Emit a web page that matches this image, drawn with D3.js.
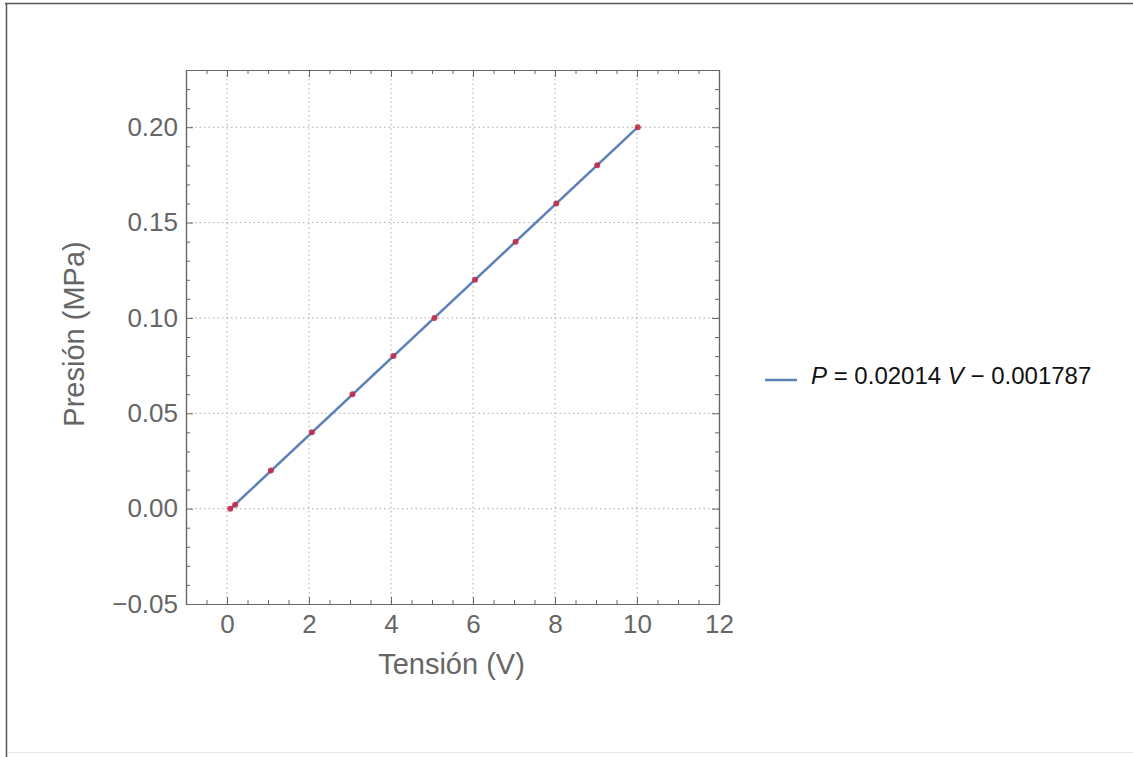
<!DOCTYPE html>
<html>
<head>
<meta charset="utf-8">
<script src="https://cdn.jsdelivr.net/npm/d3@7"></script>
<style>
  body { margin: 0; background: #fff; }
  text { font-family: "Liberation Sans", Arial, sans-serif; }
</style>
</head>
<body>
<div id="viz"></div>
<script>
const tension = [0.08, 0.2, 1.07, 2.07, 3.06, 4.06, 5.06, 6.05, 7.04, 8.03, 9.03, 10.02],
    presion = [0.0, 0.002, 0.02, 0.04, 0.06, 0.08, 0.10, 0.12, 0.14, 0.16, 0.18, 0.20],
    xTicks = [0, 2, 4, 6, 8, 10, 12],
    yTicks = [-0.05, 0.00, 0.05, 0.10, 0.15, 0.20],
    slope = 0.02014,
    intercept = -0.001787;

const svg = d3.select('#viz')
    .append('svg')
    .attr('width', 1133)
    .attr('height', 757);

// window frame of the screenshot
svg.append('rect').attr('x', 0).attr('y', 0).attr('width', 1133).attr('height', 757).attr('fill', '#fff');
svg.append('line').attr('x1', 5).attr('x2', 1133).attr('y1', 3.5).attr('y2', 3.5).attr('stroke', '#555').attr('stroke-width', 1.5);
svg.append('line').attr('x1', 6.5).attr('x2', 6.5).attr('y1', 3).attr('y2', 757).attr('stroke', '#555').attr('stroke-width', 1.5);
svg.append('line').attr('x1', 7).attr('x2', 1133).attr('y1', 752.5).attr('y2', 752.5).attr('stroke', '#e6e6e6').attr('stroke-width', 1);

const margin = {left: 186, top: 70, right: 1133 - 719, bottom: 757 - 604},
    width = 1133 - margin.left - margin.right,
    height = 757 - margin.top - margin.bottom;

const x = d3.scaleLinear().domain([-1, 12]).range([0, width]);
const y = d3.scaleLinear().domain([-0.05, 0.23]).range([height, 0]);

const g = svg.append('g')
    .attr('transform', 'translate(' + margin.left + ',' + margin.top + ')');

// grid
g.selectAll('.gx').data(xTicks.filter(d => d < 12)).enter().append('line')
    .attr('x1', d => x(d)).attr('x2', d => x(d))
    .attr('y1', 0).attr('y2', height)
    .attr('stroke', '#aaa').attr('stroke-width', 1).attr('stroke-dasharray', '1.5,3');
g.selectAll('.gy').data(yTicks.filter(d => d > -0.05)).enter().append('line')
    .attr('y1', d => y(d)).attr('y2', d => y(d))
    .attr('x1', 0).attr('x2', width)
    .attr('stroke', '#aaa').attr('stroke-width', 1).attr('stroke-dasharray', '1.5,3');

// ticks on all four sides, pointing inward
const xMinor = d3.range(-0.5, 12, 0.5).filter(d => d % 2 !== 0);
const yMinor = d3.range(-4, 23, 1).map(d => d / 100).filter(d => Math.round(d * 100) % 5 !== 0);

function frameAxis(axis, transform) {
    g.append('g').attr('transform', transform).call(axis)
        .call(a => a.select('.domain').attr('stroke', '#666').attr('stroke-width', 1.2))
        .call(a => a.selectAll('.tick line').attr('stroke', '#666'))
        .call(a => a.selectAll('.tick text').attr('fill', '#666').style('font-size', '26px'));
}

frameAxis(d3.axisBottom(x).tickValues(xTicks).tickSize(-7).tickPadding(11).tickSizeOuter(0), 'translate(0,' + height + ')');
frameAxis(d3.axisTop(x).tickValues(xTicks).tickSize(-7).tickFormat('').tickSizeOuter(0), 'translate(0,0)');
frameAxis(d3.axisLeft(y).tickValues(yTicks).tickSize(-7).tickPadding(8).tickFormat(d3.format('.2f')).tickSizeOuter(0), 'translate(0,0)');
frameAxis(d3.axisRight(y).tickValues(yTicks).tickSize(-7).tickFormat('').tickSizeOuter(0), 'translate(' + width + ',0)');

// minor ticks
frameAxis(d3.axisBottom(x).tickValues(xMinor).tickSize(-4).tickFormat('').tickSizeOuter(0), 'translate(0,' + height + ')');
frameAxis(d3.axisTop(x).tickValues(xMinor).tickSize(-4).tickFormat('').tickSizeOuter(0), 'translate(0,0)');
frameAxis(d3.axisLeft(y).tickValues(yMinor).tickSize(-4).tickFormat('').tickSizeOuter(0), 'translate(0,0)');
frameAxis(d3.axisRight(y).tickValues(yMinor).tickSize(-4).tickFormat('').tickSizeOuter(0), 'translate(' + width + ',0)');

// minus sign like the reference
g.selectAll('.tick text').filter(function() { return this.textContent.startsWith('-') || this.textContent.startsWith('−'); })
    .text(function() { return '\u2212' + this.textContent.slice(1); });

// fitted line
const vRange = d3.extent(tension);
g.append('line')
    .attr('x1', x(vRange[0])).attr('y1', y(slope * vRange[0] + intercept))
    .attr('x2', x(vRange[1])).attr('y2', y(slope * vRange[1] + intercept))
    .attr('stroke', '#5e81b5').attr('stroke-width', 2.5);

// data points
g.selectAll('circle').data(tension).enter().append('circle')
    .attr('cx', d => x(d))
    .attr('cy', (d, i) => y(presion[i]))
    .attr('r', 3)
    .attr('fill', '#c22a4a')
    .attr('opacity', 0.9);

// axis titles
svg.append('text')
    .attr('x', margin.left + width / 2 - 1).attr('y', 674)
    .attr('text-anchor', 'middle')
    .attr('fill', '#666').style('font-size', '29px')
    .text('Tensión (V)');
svg.append('text')
    .attr('transform', 'translate(84,334) rotate(-90)')
    .attr('text-anchor', 'middle')
    .attr('fill', '#666').style('font-size', '29px')
    .text('Presión (MPa)');

// legend
svg.append('line')
    .attr('x1', 765).attr('x2', 797).attr('y1', 380).attr('y2', 380)
    .attr('stroke', '#5e81b5').attr('stroke-width', 2.5);
const leg = svg.append('text')
    .attr('x', 811).attr('y', 384)
    .attr('fill', '#111').style('font-size', '24px');
leg.append('tspan').style('font-style', 'italic').text('P');
leg.append('tspan').text(' = ' + slope + ' ');
leg.append('tspan').style('font-style', 'italic').text('V');
leg.append('tspan').text(' \u2212 ' + Math.abs(intercept));
</script>
</body>
</html>
